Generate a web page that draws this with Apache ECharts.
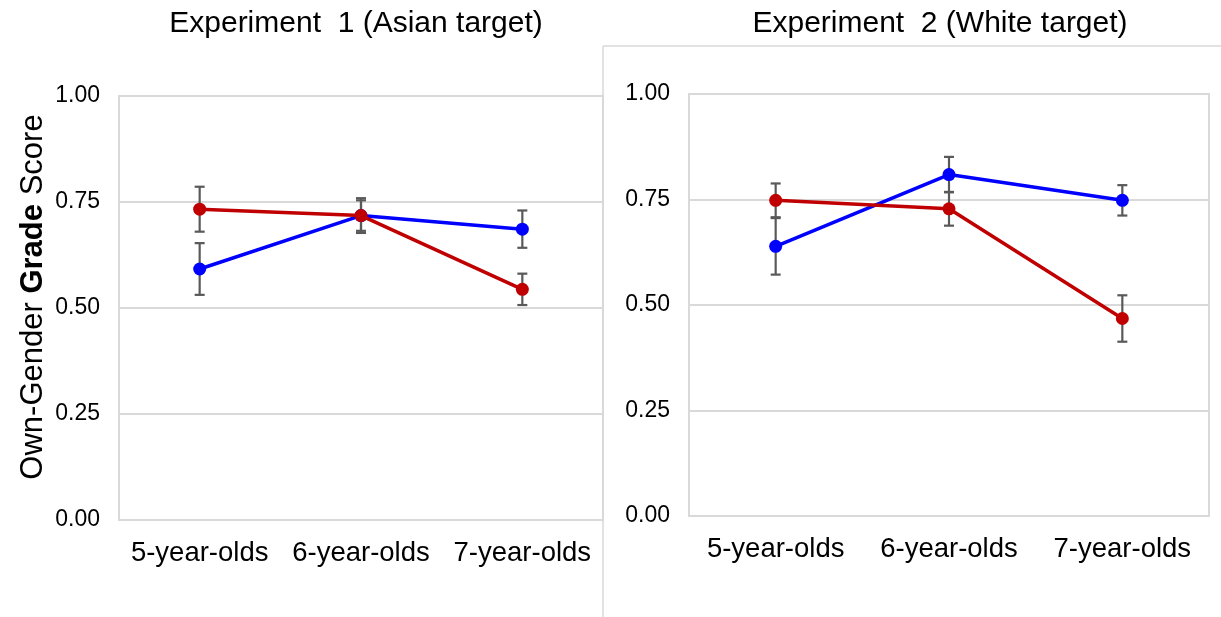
<!DOCTYPE html>
<html>
<head>
<meta charset="utf-8">
<script src="https://cdn.jsdelivr.net/npm/echarts@6/dist/echarts.min.js"></script>
<style>
html,body{margin:0;padding:0;background:#fff;}
#chart{width:1221px;height:617px;}
</style>
</head>
<body>
<div id="chart"></div>
<script>
// ---- data ----
const categories = ['5-year-olds', '6-year-olds', '7-year-olds'];
const yTicks = [0, 0.25, 0.5, 0.75, 1.0];
const titles = ['Experiment  1 (Asian target)', 'Experiment  2 (White target)'];

// Experiment 1 (Asian target)
const exp1Blue = [0.592, 0.718, 0.686];
const exp1BlueErr = [0.061, 0.036, 0.044];
const exp1Red = [0.733, 0.718, 0.544];
const exp1RedErr = [0.053, 0.041, 0.037];

// Experiment 2 (White target)
const exp2Blue = [0.639, 0.809, 0.748];
const exp2BlueErr = [0.067, 0.042, 0.036];
const exp2Red = [0.748, 0.728, 0.468];
const exp2RedErr = [0.040, 0.040, 0.055];

// ---- styles ----
const FONT = '"Liberation Sans", Arial, sans-serif';
const BLUE = '#0000FF';
const RED = '#C00000';
const ERR = '#595959';
const GRID = '#D9D9D9';

function errData(vals, errs) {
  return vals.map((v, i) => [i, v - errs[i], v + errs[i]]);
}

function errSeries(xi, vals, errs) {
  return {
    type: 'custom',
    xAxisIndex: xi, yAxisIndex: xi,
    z: 1,
    silent: true,
    data: errData(vals, errs),
    renderItem: function (params, api) {
      const x = api.value(0);
      const lo = api.coord([x, api.value(1)]);
      const hi = api.coord([x, api.value(2)]);
      const w = 5;
      const st = { stroke: ERR, lineWidth: 2.2 };
      return {
        type: 'group',
        children: [
          { type: 'line', shape: { x1: lo[0], y1: lo[1], x2: hi[0], y2: hi[1] }, style: st },
          { type: 'line', shape: { x1: lo[0] - w, y1: lo[1], x2: lo[0] + w, y2: lo[1] }, style: st },
          { type: 'line', shape: { x1: hi[0] - w, y1: hi[1], x2: hi[0] + w, y2: hi[1] }, style: st }
        ]
      };
    }
  };
}

function lineSeries(xi, vals, color, z) {
  return {
    type: 'line',
    xAxisIndex: xi, yAxisIndex: xi,
    data: vals,
    z: z,
    symbol: 'circle',
    symbolSize: 13,
    lineStyle: { color: color, width: 3.5 },
    itemStyle: { color: color },
    animation: false
  };
}

function xAxis(gi) {
  return {
    type: 'category',
    gridIndex: gi,
    data: categories,
    boundaryGap: true,
    axisLine: { show: false },
    axisTick: { show: false },
    axisLabel: { fontFamily: FONT, fontSize: 27.5, color: '#000', margin: 19, interval: 0 }
  };
}

function yAxis(gi, withName) {
  const a = {
    type: 'value',
    gridIndex: gi,
    min: yTicks[0],
    max: yTicks[yTicks.length - 1],
    interval: yTicks[1] - yTicks[0],
    axisLine: { show: false },
    axisTick: { show: false },
    splitLine: { show: true, lineStyle: { color: GRID, width: 2 } },
    axisLabel: {
      fontFamily: FONT, fontSize: 23, color: '#000', margin: 19,
      formatter: v => v.toFixed(2)
    }
  };
  if (withName) {
    a.name = '{n|Own-Gender }{b|Grade}{n| Score}';
    a.nameLocation = 'middle';
    a.nameRotate = 90;
    a.nameGap = 70;
    a.nameTextStyle = {
      padding: [0, 0, 0, 22],
      rich: {
        n: { fontFamily: FONT, fontSize: 31, color: '#000' },
        b: { fontFamily: FONT, fontSize: 31, color: '#000', fontWeight: 'bold' }
      }
    };
  }
  return a;
}

const chart = echarts.init(document.getElementById('chart'), null, { renderer: 'canvas' });
chart.setOption({
  backgroundColor: '#fff',
  animation: false,
  title: [
    { text: titles[0], left: 351, top: 4, textAlign: 'center',
      textStyle: { fontFamily: FONT, fontSize: 30, fontWeight: 'normal', color: '#000' } },
    { text: titles[1], left: 935, top: 4, textAlign: 'center',
      textStyle: { fontFamily: FONT, fontSize: 30, fontWeight: 'normal', color: '#000' } }
  ],
  graphic: [
    { type: 'line', shape: { x1: 603, y1: 46, x2: 1221, y2: 46 }, style: { stroke: GRID, lineWidth: 1.5 }, z: 0 },
    { type: 'line', shape: { x1: 603, y1: 46, x2: 603, y2: 617 }, style: { stroke: GRID, lineWidth: 1.5 }, z: 0 }
  ],
  grid: [
    { left: 119, top: 96, width: 484, height: 424, show: true, borderColor: GRID, borderWidth: 2, backgroundColor: 'transparent' },
    { left: 689, top: 94, width: 520, height: 422, show: true, borderColor: GRID, borderWidth: 2, backgroundColor: 'transparent' }
  ],
  xAxis: [xAxis(0), xAxis(1)],
  yAxis: [yAxis(0, true), yAxis(1, false)],
  series: [
    errSeries(0, exp1Blue, exp1BlueErr),
    errSeries(0, exp1Red, exp1RedErr),
    lineSeries(0, exp1Blue, BLUE, 2),
    lineSeries(0, exp1Red, RED, 3),
    errSeries(1, exp2Blue, exp2BlueErr),
    errSeries(1, exp2Red, exp2RedErr),
    lineSeries(1, exp2Blue, BLUE, 2),
    lineSeries(1, exp2Red, RED, 3)
  ]
});
</script>
</body>
</html>
